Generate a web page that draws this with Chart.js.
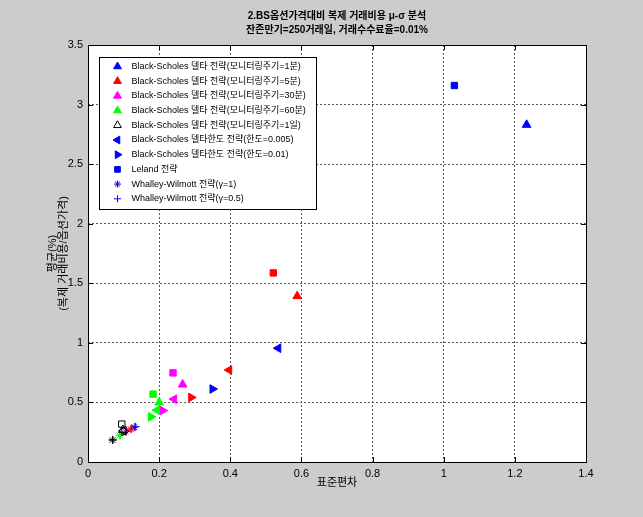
<!DOCTYPE html>
<html>
<head>
<meta charset="utf-8">
<script src="https://cdn.jsdelivr.net/npm/chart.js@4.4.1/dist/chart.umd.min.js"></script>
<style>
    html, body { margin: 0; padding: 0; background: #cccccc; }
    canvas { display: block; }
</style>
</head>
<body>
<canvas id="muSigmaChart" width="643" height="517"></canvas>
<script>
// monitoring frequency -> colour
const freqNames = ['1분', '5분', '30분', '60분', '1일'];
const freqColors = ['#0000ff', '#ff0000', '#ff00ff', '#00ff00', '#000000'];

// x = 표준편차, y = 평균(%), one value per frequency (1분, 5분, 30분, 60분, 1일)
const deltaStd = [1.233, 0.588, 0.266, 0.200, 0.098];
const deltaMean = [2.83, 1.392, 0.650, 0.500, 0.268];
const band005Std = [0.535, 0.397, 0.242, 0.194, 0.100];
const band005Mean = [0.955, 0.772, 0.528, 0.435, 0.262];
const band01Std = [0.350, 0.290, 0.210, 0.177, 0.102];
const band01Mean = [0.613, 0.542, 0.432, 0.379, 0.258];
const lelandStd = [1.030, 0.521, 0.239, 0.183, 0.095];
const lelandMean = [3.16, 1.587, 0.748, 0.570, 0.318];
const ww1Std = [0.130, 0.120, 0.106, 0.089, 0.069];
const ww1Mean = [0.292, 0.276, 0.256, 0.222, 0.184];
const ww05Std = [0.134, 0.123, 0.108, 0.091, 0.070];
const ww05Mean = [0.296, 0.279, 0.258, 0.225, 0.186];

const xTicks = [0, 0.2, 0.4, 0.6, 0.8, 1, 1.2, 1.4];
const xTickLabels = ['0', '0.2', '0.4', '0.6', '0.8', '1', '1.2', '1.4'];
const yTicks = [0, 0.5, 1, 1.5, 2, 2.5, 3, 3.5];
const yTickLabels = ['0', '0.5', '1', '1.5', '2', '2.5', '3', '3.5'];

const FONT = 'Liberation Sans, Arial, "Noto Sans CJK KR", sans-serif';

function pts(xs, ys) {
    return xs.map((x, i) => ({ x: x, y: ys[i] }));
}
// open marker for the 1일 (black) points
const fills = freqColors.map((c, i) => i === 4 ? 'rgba(0,0,0,0)' : c);

const datasets = freqNames.map((f, i) => ({
    label: 'Black-Scholes 델타 전략(모니터링주기=' + f + ')',
    data: [{ x: deltaStd[i], y: deltaMean[i] }],
    pointStyle: 'triangle',
    pointRadius: 5,
    pointBackgroundColor: fills[i],
    pointBorderColor: freqColors[i],
    pointBorderWidth: 1
}));

datasets.push({
    label: 'Black-Scholes 델타한도 전략(한도=0.005)',
    data: pts(band005Std, band005Mean),
    pointStyle: 'triangle', pointRotation: -90, pointRadius: 5,
    pointBackgroundColor: fills, pointBorderColor: freqColors, pointBorderWidth: 1
});
datasets.push({
    label: 'Black-Scholes 델타한도 전략(한도=0.01)',
    data: pts(band01Std, band01Mean),
    pointStyle: 'triangle', pointRotation: 90, pointRadius: 5,
    pointBackgroundColor: fills, pointBorderColor: freqColors, pointBorderWidth: 1
});
datasets.push({
    label: 'Leland 전략',
    data: pts(lelandStd, lelandMean),
    pointStyle: 'rect', pointRadius: 4.5,
    pointBackgroundColor: fills, pointBorderColor: freqColors, pointBorderWidth: 1
});
datasets.push({
    label: 'Whalley-Wilmott 전략(γ=1)',
    data: pts(ww1Std, ww1Mean),
    pointStyle: 'star', pointRadius: 4,
    pointBackgroundColor: freqColors, pointBorderColor: freqColors, pointBorderWidth: 1
});
datasets.push({
    label: 'Whalley-Wilmott 전략(γ=0.5)',
    data: pts(ww05Std, ww05Mean),
    pointStyle: 'cross', pointRadius: 4,
    pointBackgroundColor: freqColors, pointBorderColor: freqColors, pointBorderWidth: 1
});

// white axes background, black box and inward ticks (matlab look)
const axesBox = {
    id: 'axesBox',
    beforeDraw(chart) {
        const a = chart.chartArea;
        chart.ctx.save();
        chart.ctx.fillStyle = '#ffffff';
        chart.ctx.fillRect(a.left, a.top, a.right - a.left, a.bottom - a.top);
        chart.ctx.restore();
    },
    beforeDatasetsDraw(chart) {
        const ctx = chart.ctx, a = chart.chartArea;
        const xs = chart.scales.x, ys = chart.scales.y;
        ctx.save();
        ctx.strokeStyle = '#000';
        ctx.lineWidth = 1;
        ctx.strokeRect(Math.round(a.left) + 0.5, Math.round(a.top) + 0.5,
            Math.round(a.right - a.left), Math.round(a.bottom - a.top));
        ctx.beginPath();
        xTicks.forEach(v => {
            const px = Math.round(xs.getPixelForValue(v)) + 0.5;
            ctx.moveTo(px, a.bottom); ctx.lineTo(px, a.bottom - 5);
            ctx.moveTo(px, a.top); ctx.lineTo(px, a.top + 5);
        });
        yTicks.forEach(v => {
            const py = Math.round(ys.getPixelForValue(v)) + 0.5;
            ctx.moveTo(a.left, py); ctx.lineTo(a.left + 5, py);
            ctx.moveTo(a.right, py); ctx.lineTo(a.right - 5, py);
        });
        ctx.stroke();
        ctx.restore();
    }
};

// legend box inside the axes, top-left
const boxLegend = {
    id: 'boxLegend',
    afterDraw(chart) {
        const ctx = chart.ctx, a = chart.chartArea;
        const x0 = Math.round(a.left + 11) + 0.5, y0 = Math.round(a.top + 12) + 0.5;
        const rowH = 14.7;
        ctx.save();
        ctx.fillStyle = '#ffffff';
        ctx.strokeStyle = '#000';
        ctx.lineWidth = 1;
        ctx.fillRect(x0, y0, 217, 152);
        ctx.strokeRect(x0, y0, 217, 152);
        ctx.font = '9px ' + FONT;
        ctx.textBaseline = 'middle';
        chart.data.datasets.forEach((ds, i) => {
            const y = y0 + 9 + i * rowH;
            const bg = Array.isArray(ds.pointBackgroundColor) ? ds.pointBackgroundColor[0] : ds.pointBackgroundColor;
            const bc = Array.isArray(ds.pointBorderColor) ? ds.pointBorderColor[0] : ds.pointBorderColor;
            ctx.fillStyle = bg;
            ctx.strokeStyle = bc;
            ctx.lineWidth = 1;
            Chart.helpers.drawPoint(ctx, {
                pointStyle: ds.pointStyle,
                rotation: ds.pointRotation || 0,
                radius: ds.pointRadius - 0.5,
                borderWidth: 1
            }, x0 + 18, y);
            ctx.fillStyle = '#000';
            ctx.fillText(ds.label, x0 + 32, y);
        });
        ctx.restore();
    }
};

new Chart(document.getElementById('muSigmaChart'), {
    type: 'scatter',
    data: { datasets: datasets },
    options: {
        responsive: false,
        animation: false,
        layout: { padding: { left: 0, right: 57, top: 0, bottom: 0 } },
        plugins: {
            legend: { display: false },
            tooltip: { enabled: false },
            title: {
                display: true,
                fullSize: false,
                text: ['2.BS옵션가격대비 복제 거래비용 μ-σ 분석', '잔존만기=250거래일, 거래수수료율=0.01%'],
                color: '#000',
                font: { family: FONT, size: 10, weight: 'bold', lineHeight: 1.4 },
                padding: { top: 9, bottom: 8 }
            }
        },
        scales: {
            x: {
                type: 'linear',
                min: 0,
                max: 1.4,
                afterBuildTicks: s => { s.ticks = xTicks.map(v => ({ value: v })); },
                afterFit: s => { s.height = 55; },
                grid: { color: '#555', drawTicks: false },
                border: { display: false, dash: [2, 2] },
                ticks: {
                    color: '#000', padding: 5, font: { family: FONT, size: 11 },
                    callback: (v, i) => xTickLabels[i]
                },
                title: {
                    display: true,
                    text: '표준편차',
                    color: '#000',
                    font: { family: FONT, size: 11 },
                    padding: { top: 0, bottom: 27 }
                }
            },
            y: {
                type: 'linear',
                min: 0,
                max: 3.5,
                afterBuildTicks: s => { s.ticks = yTicks.map(v => ({ value: v })); },
                afterFit: s => { s.width = 88; },
                grid: { color: '#555', drawTicks: false },
                border: { display: false, dash: [2, 2] },
                ticks: {
                    color: '#000', padding: 5, font: { family: FONT, size: 11 },
                    callback: (v, i) => yTickLabels[i]
                },
                title: {
                    display: true,
                    text: ['평균(%)', '(복제 거래비용/옵션가격)'],
                    color: '#000',
                    font: { family: FONT, size: 11, lineHeight: 1.0 },
                    padding: { top: 47, bottom: 0 }
                }
            }
        }
    },
    plugins: [axesBox, boxLegend]
});
</script>
</body>
</html>
